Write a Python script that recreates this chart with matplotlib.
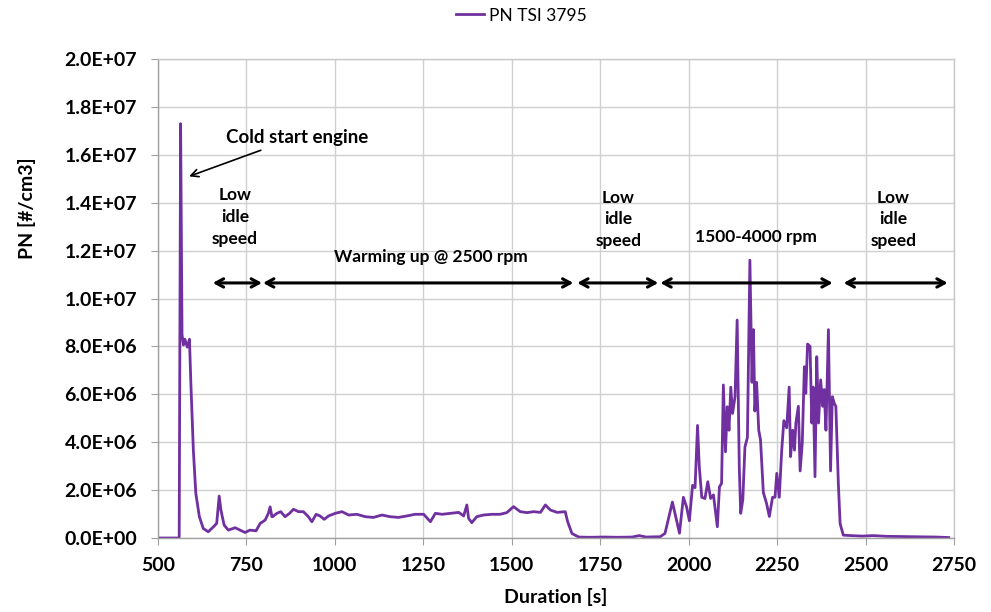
import matplotlib
matplotlib.use("Agg")
import matplotlib.pyplot as plt
from matplotlib.ticker import FuncFormatter, MultipleLocator

plt.rcParams['font.family'] = ['Lato', 'DejaVu Sans']

# measured particle number, TSI 3795 (time in s, PN in 1e6 #/cm3)
time_s = [500, 540, 557, 560, 564, 568, 572, 576, 583, 589, 593, 600, 607, 617, 628,
          642, 657, 666, 673, 678, 687, 699, 718, 732, 746, 760, 777, 789, 803, 812,
          817, 822, 824, 836, 847, 859, 872, 883, 897, 911, 925, 935, 947, 958, 970,
          982, 1001, 1020, 1039, 1062, 1086, 1109, 1133, 1156, 1180, 1203, 1227, 1251,
          1270, 1284, 1303, 1326, 1350, 1364, 1373, 1378, 1387, 1401, 1420, 1444, 1467,
          1486, 1505, 1524, 1543, 1562, 1581, 1595, 1609, 1628, 1651, 1658, 1670, 1689,
          1720, 1760, 1800, 1840, 1860, 1880, 1905, 1919, 1933, 1954, 1974, 1985, 1994,
          2002, 2011, 2018, 2025, 2030, 2037, 2046, 2054, 2062, 2070, 2081, 2087, 2093,
          2098, 2104, 2109, 2114, 2119, 2124, 2131, 2137, 2143, 2147, 2153, 2159, 2166,
          2173, 2179, 2183, 2187, 2192, 2198, 2203, 2211, 2220, 2228, 2237, 2244, 2249,
          2256, 2263, 2269, 2277, 2284, 2288, 2294, 2299, 2303, 2310, 2315, 2321, 2327,
          2331, 2336, 2343, 2348, 2352, 2357, 2362, 2367, 2373, 2379, 2383, 2388, 2395,
          2401, 2406, 2412, 2416, 2423, 2428, 2437, 2460, 2490, 2522, 2560, 2600, 2650,
          2700, 2735]
pn_1e6 = [0.0, 0.0, 0.0, 0.05, 17.3, 8.5, 8.06, 8.3, 7.97, 8.3, 6.46, 3.67, 1.86, 0.89, 0.4,
          0.26, 0.47, 0.61, 1.75, 1.16, 0.54, 0.33, 0.43, 0.33, 0.23, 0.33, 0.3, 0.61, 0.75, 1.03,
          1.3, 0.89, 0.89, 1.03, 1.1, 0.89, 1.03, 1.2, 1.1, 1.1, 0.89, 0.68, 0.99, 0.92, 0.78,
          0.92, 1.03, 1.1, 0.96, 0.99, 0.89, 0.86, 0.96, 0.89, 0.86, 0.92, 0.99, 0.99,
          0.68, 1.03, 0.99, 1.03, 1.07, 0.92, 1.38, 0.82, 0.64, 0.89, 0.96, 0.99, 0.99,
          1.06, 1.31, 1.1, 1.06, 1.1, 1.07, 1.38, 1.17, 1.07, 1.1, 0.68, 0.19, 0.04,
          0.03, 0.04, 0.03, 0.04, 0.1, 0.04, 0.05, 0.05, 0.19, 1.5, 0.2, 1.7, 1.3,
          0.72, 2.2, 2.1, 4.7, 2.97, 1.7, 1.65, 2.35, 1.65, 1.8, 0.47, 2.14, 2.28,
          6.39, 3.6, 5.48, 4.5, 6.3, 5.2, 5.9, 9.1, 2.98, 1.03, 1.6, 3.8, 4.2,
          11.6, 6.5, 8.7, 5.3, 6.5, 4.5, 4.1, 1.9, 1.45, 0.9, 1.7, 1.7, 2.7,
          1.7, 3.67, 4.9, 4.6, 6.3, 3.4, 4.5, 3.67, 4.8, 5.5, 2.8, 3.95, 7.15,
          6.04, 8.1, 8.0, 4.8, 6.3, 2.56, 7.57, 4.8, 6.6, 5.5, 6.2, 4.5, 8.7,
          2.8, 5.9, 5.6, 5.5, 2.28, 0.6, 0.12, 0.1, 0.08, 0.1, 0.07, 0.06, 0.05,
          0.04, 0.02]
pn = [v * 1e6 for v in pn_1e6]

# operating phases: (start, end) of each double arrow
phase_spans = [(655, 794), (797, 1674), (1685, 1914), (1920, 2407), (2438, 2732)]
phase_labels = ["Low\nidle\nspeed", "Warming up @ 2500 rpm", "Low\nidle\nspeed",
                "1500-4000 rpm", "Low\nidle\nspeed"]
label_x = [718, 1272, 1801, 2189, 2579]
label_y = [13.4e6, 11.73e6, 13.3e6, 12.57e6, 13.3e6]

fig = plt.figure(figsize=(9.91, 6.12), dpi=100)
ax = fig.add_axes([0.1594, 0.1209, 0.8033, 0.7827])

ax.plot(time_s, pn, color="#7030A0", lw=2.0, label="PN TSI 3795")

ax.set_xlim(500, 2750)
ax.set_ylim(0, 2.0e7)
ax.xaxis.set_major_locator(MultipleLocator(250))
ax.yaxis.set_major_locator(MultipleLocator(2.0e6))
ax.yaxis.set_major_formatter(FuncFormatter(lambda v, p: f"{v:.1E}"))
ax.grid(True, color="#d0d0d0", lw=1.0)
ax.set_axisbelow(True)
for s in ax.spines.values():
    s.set_color("#c8c8c8")
    s.set_linewidth(1.0)
ax.spines['left'].set_color("#a0a0a0")
ax.spines['bottom'].set_color("#a0a0a0")
ax.tick_params(axis='y', length=5, color="#a0a0a0", pad=10, labelsize=14)
ax.tick_params(axis='x', length=5, color="#a0a0a0", pad=9, labelsize=14)
for lab in ax.get_xticklabels() + ax.get_yticklabels():
    lab.set_fontweight("bold")

ax.set_xlabel("Duration [s]", fontsize=14, fontweight="bold", labelpad=10)
fig.text(0.027, 0.66, "PN [#/cm3]", rotation=90, ha="center", va="center",
         fontsize=14, fontweight="bold")

ax.legend(loc="upper center", bbox_to_anchor=(0.457, 1.14), frameon=False,
          fontsize=12.5, handlelength=1.6, handletextpad=0.3)

# annotations
ax.annotate("Cold start engine", xy=(588, 15.1e6), xytext=(692, 16.74e6),
            fontsize=13.5, fontweight="bold", va="center", ha="left",
            arrowprops=dict(arrowstyle="->", color="black", lw=1.2,
                            shrinkA=4, shrinkB=0))
for (x0, x1), txt, tx, ty in zip(phase_spans, phase_labels, label_x, label_y):
    ax.annotate("", xy=(x0, 10.65e6), xytext=(x1, 10.65e6),
                arrowprops=dict(arrowstyle="<->,head_length=0.55,head_width=0.3",
                                color="black", lw=2.2, shrinkA=0, shrinkB=0))
    ax.text(tx, ty, txt, ha="center", va="center", fontsize=12.5,
            fontweight="bold", linespacing=1.45)

fig.savefig("out.png", dpi=100)
